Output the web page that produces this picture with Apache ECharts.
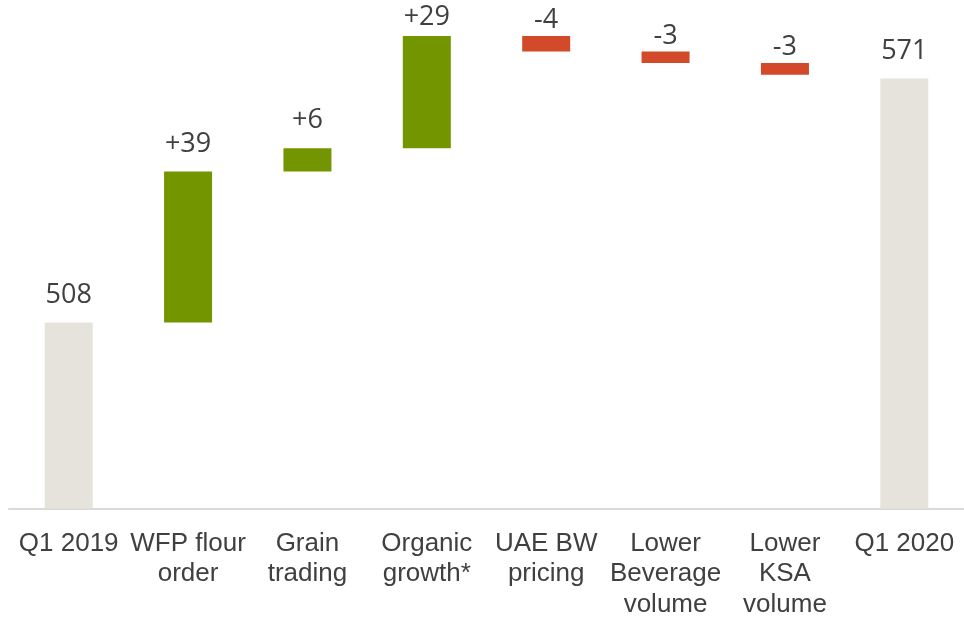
<!DOCTYPE html>
<html>
<head>
<meta charset="utf-8">
<script src="https://cdn.jsdelivr.net/npm/echarts@6/dist/echarts.min.js"></script>
<style>
    html, body { margin: 0; padding: 0; background: #fff; }
    #chart { width: 964px; height: 620px; }
</style>
</head>
<body>
<div id="chart"></div>
<script>
// 瀑布图数据
const categories = ['Q1 2019', 'WFP flour\norder', 'Grain\ntrading', 'Organic\ngrowth*', 'UAE BW\npricing', 'Lower\nBeverage\nvolume', 'Lower\nKSA\nvolume', 'Q1 2020']
const startValue = 508
const changes = [39, 6, 29, -4, -3, -3]
const endValue = 571

const GREY = '#e6e3dc'
const GREEN = '#739600'
const RED = '#d24a29'

// 透明底座 + 可见柱
let baseData = []
let barData = []
let running = startValue
baseData.push(0)
barData.push({ value: startValue, label: { formatter: String(startValue), distance: 14 }, itemStyle: { color: GREY } })
changes.forEach((c, i) => {
    let low = c >= 0 ? running : running + c
    baseData.push(low)
    barData.push({
        value: Math.abs(c),
        label: {
            formatter: (c >= 0 ? '+' : '') + c,
            distance: c >= 0 ? (i === 2 ? 5 : 14) : 2
        },
        itemStyle: { color: c >= 0 ? GREEN : RED }
    })
    running += c
})
baseData.push(0)
barData.push({ value: endValue, label: { formatter: String(endValue), distance: 14 }, itemStyle: { color: GREY } })

let myChart = echarts.init(document.getElementById('chart'))
myChart.setOption({
    animation: false,
    grid: { left: 9, right: 0, top: 5, bottom: 108 },
    xAxis: {
        type: 'category',
        data: categories,
        axisLine: { lineStyle: { color: '#d9d9d9', width: 2 } },
        axisTick: { show: false },
        axisLabel: {
            interval: 0,
            color: '#404040',
            fontFamily: 'Liberation Sans, Arial, sans-serif',
            fontSize: 26,
            lineHeight: 30.5,
            margin: 20
        }
    },
    yAxis: {
        type: 'value',
        min: 460,
        max: 590,
        show: false,
        splitLine: { show: false }
    },
    series: [{
        type: 'bar',
        stack: 'w',
        barWidth: 48,
        itemStyle: { color: 'transparent' },
        data: baseData,
        silent: true
    }, {
        type: 'bar',
        stack: 'w',
        barWidth: 48,
        label: {
            show: true,
            position: 'top',
            color: '#404040',
            fontFamily: 'Open Sans, sans-serif',
            fontSize: 27
        },
        data: barData
    }]
})
</script>
</body>
</html>
